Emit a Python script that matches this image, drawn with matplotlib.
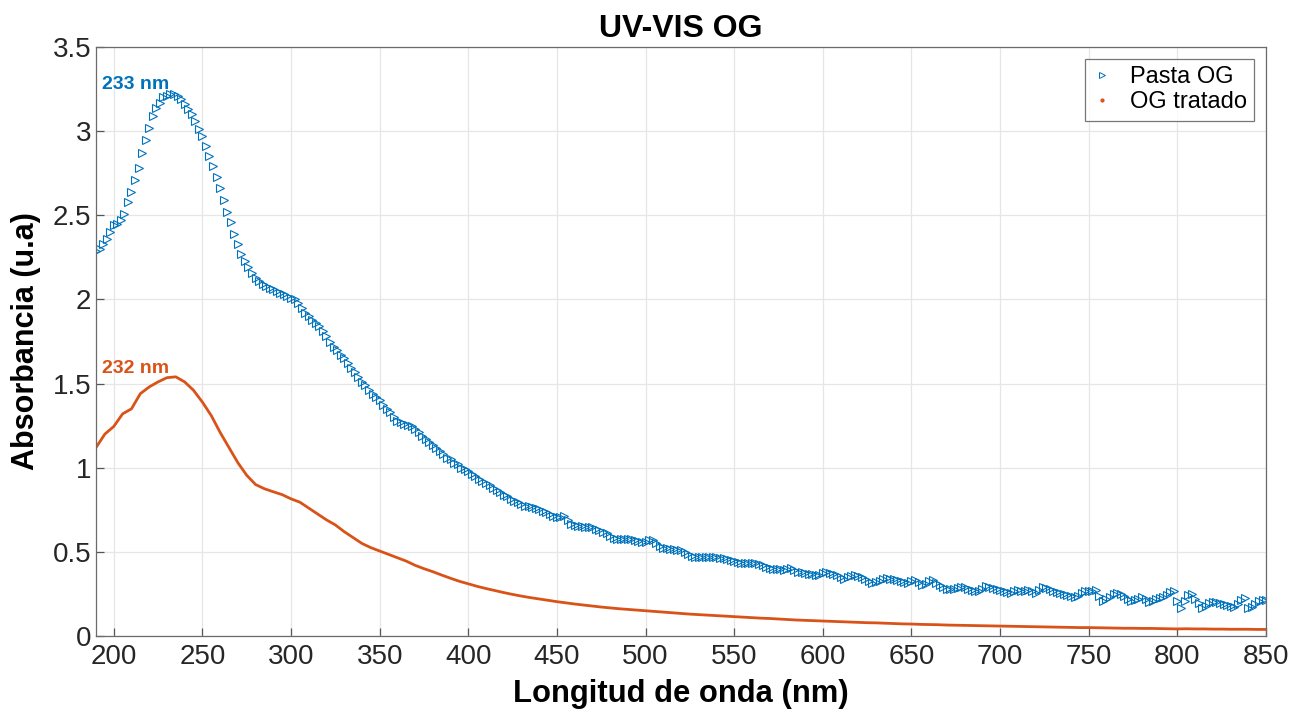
import numpy as np
import matplotlib
matplotlib.use("Agg")
import matplotlib.pyplot as plt
from matplotlib.lines import Line2D
from matplotlib.ticker import FuncFormatter

plt.rcParams['font.family'] = ['Liberation Sans', 'DejaVu Sans']

# ---- data ----
# Pasta OG: absorbance every 2 nm from 190 to 850 nm
pasta_nm = np.arange(190, 851, 2)
pasta_abs = [
    2.29, 2.30, 2.33, 2.36, 2.40, 2.44, 2.45, 2.47, 2.51, 2.58,      # 190
    2.64, 2.71, 2.78, 2.87, 2.95, 3.02, 3.09, 3.14, 3.17, 3.20,      # 210
    3.21, 3.22, 3.22, 3.21, 3.19, 3.16, 3.13, 3.10, 3.06, 3.01,      # 230
    2.97, 2.91, 2.85, 2.79, 2.73, 2.66, 2.59, 2.52, 2.46, 2.39,      # 250
    2.33, 2.27, 2.23, 2.19, 2.16, 2.13, 2.11, 2.09, 2.08, 2.07,      # 270
    2.06, 2.05, 2.04, 2.03, 2.02, 2.01, 2.00, 1.98, 1.95, 1.92,      # 290
    1.90, 1.88, 1.86, 1.84, 1.81, 1.78, 1.75, 1.72, 1.70, 1.67,      # 310
    1.65, 1.62, 1.59, 1.57, 1.54, 1.51, 1.49, 1.46, 1.44, 1.42,      # 330
    1.40, 1.37, 1.35, 1.33, 1.30, 1.28, 1.27, 1.26, 1.255, 1.245,    # 350
    1.23, 1.21, 1.19, 1.17, 1.15, 1.135, 1.12, 1.10, 1.08, 1.06,     # 370
    1.05, 1.03, 1.02, 1.00, 0.99, 0.98, 0.965, 0.95, 0.935, 0.92,    # 390
    0.907, 0.895, 0.88, 0.87, 0.855, 0.84, 0.83, 0.815, 0.805, 0.795,  # 410
    0.785, 0.775, 0.77, 0.765, 0.76, 0.755, 0.745, 0.735, 0.725, 0.715,  # 430
    0.705, 0.71, 0.712, 0.69, 0.665, 0.66, 0.655, 0.652, 0.65, 0.65,   # 450
    0.645, 0.635, 0.63, 0.62, 0.61, 0.595, 0.582, 0.578, 0.577, 0.576,  # 470
    0.575, 0.575, 0.57, 0.562, 0.556, 0.56, 0.57, 0.573, 0.555, 0.535,  # 490
    0.522, 0.52, 0.517, 0.515, 0.512, 0.51, 0.50, 0.49, 0.478, 0.471,   # 510
    0.471, 0.471, 0.47, 0.471, 0.471, 0.468, 0.465, 0.462, 0.457, 0.452,  # 530
    0.448, 0.442, 0.436, 0.432, 0.432, 0.434, 0.432, 0.43, 0.42, 0.41,    # 550
    0.403, 0.40, 0.40, 0.398, 0.395, 0.398, 0.402, 0.39, 0.382, 0.378,    # 570
    0.373, 0.37, 0.367, 0.364, 0.362, 0.372, 0.38, 0.375, 0.368, 0.362,   # 590
    0.35, 0.338, 0.348, 0.358, 0.362, 0.356, 0.35, 0.338, 0.325, 0.315,   # 610
    0.318, 0.328, 0.338, 0.343, 0.34, 0.336, 0.333, 0.327, 0.321, 0.317,  # 630
    0.326, 0.333, 0.318, 0.302, 0.31, 0.325, 0.333, 0.315, 0.303, 0.292,  # 650
    0.282, 0.277, 0.282, 0.287, 0.292, 0.292, 0.282, 0.272, 0.265, 0.268,  # 670
    0.282, 0.296, 0.29, 0.283, 0.277, 0.272, 0.265, 0.259, 0.257, 0.265,   # 690
    0.272, 0.27, 0.269, 0.276, 0.27, 0.255, 0.275, 0.292, 0.285, 0.277,    # 710
    0.268, 0.259, 0.254, 0.247, 0.243, 0.237, 0.232, 0.24, 0.256, 0.265,   # 730
    0.268, 0.27, 0.273, 0.24, 0.205, 0.218, 0.232, 0.247, 0.254, 0.248,    # 750
    0.238, 0.222, 0.208, 0.212, 0.222, 0.232, 0.218, 0.20, 0.208, 0.218,   # 770
    0.228, 0.234, 0.246, 0.26, 0.268, 0.21, 0.165, 0.205, 0.245, 0.248,    # 790
    0.222, 0.195, 0.166, 0.18, 0.196, 0.204, 0.20, 0.196, 0.192, 0.186,    # 810
    0.18, 0.175, 0.19, 0.215, 0.228, 0.165, 0.175, 0.19, 0.205, 0.216,     # 830
    0.215,                                                                # 850
]

# OG tratado: absorbance every 5 nm from 190 to 850 nm
tratado_nm = np.arange(190, 851, 5)
tratado_abs = [
    1.12, 1.20, 1.245, 1.32, 1.35, 1.44, 1.48, 1.51, 1.535, 1.54,        # 190
    1.51, 1.46, 1.39, 1.31, 1.21, 1.12, 1.03, 0.955, 0.90, 0.875,        # 240
    0.857, 0.84, 0.815, 0.795, 0.76, 0.725, 0.69, 0.66, 0.62, 0.585,     # 290
    0.55, 0.525, 0.505, 0.485, 0.465, 0.445, 0.42, 0.40, 0.382, 0.362,   # 340
    0.343, 0.325, 0.31, 0.295, 0.282, 0.27, 0.258, 0.247, 0.237, 0.228,  # 390
    0.22, 0.212, 0.204, 0.197, 0.19, 0.184, 0.178, 0.172, 0.167, 0.162,  # 440
    0.158, 0.154, 0.15, 0.146, 0.142, 0.138, 0.134, 0.13, 0.127, 0.124,  # 490
    0.121, 0.118, 0.115, 0.112, 0.109, 0.106, 0.104, 0.101, 0.098, 0.095,  # 540
    0.093, 0.091, 0.089, 0.087, 0.085, 0.083, 0.081, 0.079, 0.078, 0.076,  # 590
    0.074, 0.072, 0.071, 0.069, 0.068, 0.067, 0.065, 0.064, 0.063, 0.062,  # 640
    0.061, 0.060, 0.059, 0.058, 0.057, 0.056, 0.055, 0.054, 0.053, 0.052,  # 690
    0.051, 0.050, 0.050, 0.049, 0.048, 0.047, 0.046, 0.046, 0.045, 0.045,  # 740
    0.044, 0.043, 0.042, 0.043, 0.042, 0.042, 0.041, 0.041, 0.040, 0.040,  # 790
    0.040, 0.039, 0.039,                                                  # 840
]

series_labels = ["Pasta OG", "OG tratado"]
peak_labels = ["233 nm", "232 nm"]
peak_pos = [(233, 3.22), (232, 1.54)]
x_ticks = list(range(200, 851, 50))
y_ticks = [0, 0.5, 1, 1.5, 2, 2.5, 3, 3.5]

BLUE = "#0072BD"
ORANGE = "#D95319"

# ---- figure ----
fig = plt.figure(figsize=(12.94, 7.21), dpi=100)
ax = fig.add_axes([0.0742, 0.1179, 0.9042, 0.8169])

ax.plot(pasta_nm, pasta_abs, linestyle="none", marker=">", markersize=5.6,
        markerfacecolor="none", markeredgecolor=BLUE, markeredgewidth=0.8)
ax.plot(tratado_nm, tratado_abs, linestyle="-", color=ORANGE, linewidth=2.0)

ax.set_xlim(190, 850)
ax.set_ylim(0, 3.5)
ax.set_xticks(x_ticks)
ax.set_yticks(y_ticks)
ax.yaxis.set_major_formatter(FuncFormatter(lambda v, p: f"{v:g}"))

ax.grid(True, color="#e6e6e6", linewidth=0.9)
ax.set_axisbelow(True)
for s in ax.spines.values():
    s.set_color("#6a6a6a")
    s.set_linewidth(0.9)
ax.tick_params(direction="in", length=6, width=0.9, color="#555555",
               labelsize=20, labelcolor="#262626", top=False, right=False)
ax.tick_params(axis="x", pad=6)

ax.set_xlabel("Longitud de onda (nm)", fontsize=22.3, fontweight="bold", labelpad=6)
ax.set_ylabel("Absorbancia (u.a)", fontsize=22, fontweight="bold", labelpad=8)
ax.set_title("UV-VIS OG", fontsize=23, fontweight="bold", pad=7)

# peak annotations
ax.text(peak_pos[0][0] - 1.5, peak_pos[0][1] + 0.005, peak_labels[0], color=BLUE,
        fontsize=14, fontweight="bold", ha="right", va="bottom")
ax.text(peak_pos[1][0] - 1, peak_pos[1][1] + 0.0, peak_labels[1], color=ORANGE,
        fontsize=14, fontweight="bold", ha="right", va="bottom")

handles = [
    Line2D([], [], linestyle="none", marker=">", markersize=4.2,
           markerfacecolor="none", markeredgecolor=BLUE, markeredgewidth=0.7),
    Line2D([], [], linestyle="none", marker=".", markersize=4, color=ORANGE),
]
leg = ax.legend(handles, series_labels, loc="upper right", fontsize=17,
                frameon=True, fancybox=False, edgecolor="#555555",
                borderpad=0.3, handletextpad=0.8, labelspacing=0.15,
                borderaxespad=0.5, handlelength=0.8)
leg.get_frame().set_linewidth(0.9)

fig.savefig("out.png", dpi=100)
